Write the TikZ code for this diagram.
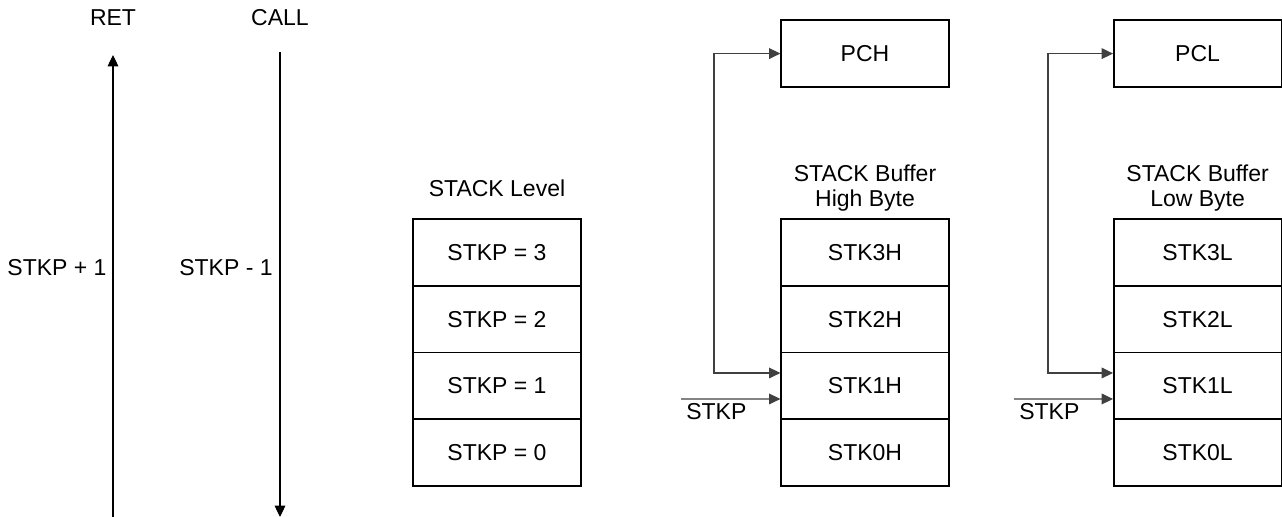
\documentclass[tikz,border=0pt]{standalone}
\usepackage{fontspec}
\setmainfont{Liberation Sans}
\usetikzlibrary{arrows.meta}
\begin{document}
\begin{tikzpicture}[x=0.75pt,y=-0.75pt,
  txt/.style={font=\fontsize{17.25pt}{18.75pt}\selectfont, inner sep=0pt, align=center},
  cell/.style={draw=black, line width=1.25pt, minimum width=125.6pt, minimum height=50.06pt,
    inner sep=0pt, font=\fontsize{17.25pt}{18.75pt}\selectfont},
  tip/.style={-{Triangle[length=8.5pt,width=8pt]}},
  flow/.style={line width=0.8pt, black!75},
  both/.style={{Triangle[length=8.5pt,width=8pt]}-{Triangle[length=8.5pt,width=8pt]}}
]
\useasboundingbox (0,0) rectangle (1282,517);

% direction arrows
\node[txt] (ret) at (113,18) {RET};
\node[txt] (call) at (280,18) {CALL};
\coordinate (retbot) at (113,520);
\coordinate (rettop) at (113,55);
\coordinate (calltop) at (280,52);
\coordinate (callbot) at (280,517);
\draw[line width=0.9pt, tip] (retbot) -- (rettop);
\draw[line width=0.9pt, tip] (calltop) -- (callbot);
\node[txt] (plus) at (57,268) {STKP + 1};
\node[txt] (minus) at (226,268) {STKP - 1};

% stack level column
\node[txt] (lvl) at (497,188) {STACK Level};
\node[cell] (L3) at (497,252.4) {STKP = 3};
\node[cell] (L2) at (497,319.1) {STKP = 2};
\node[cell] (L1) at (497,385.9) {STKP = 1};
\node[cell] (L0) at (497,452.6) {STKP = 0};

% high byte column
\node[cell] (PCH) at (865,53.6) {PCH};
\node[txt] (hdr) at (865,188) {STACK Buffer\\High Byte};
\node[cell] (H3) at (865,252.4) {STK3H};
\node[cell] (H2) at (865,319.1) {STK2H};
\node[cell] (H1) at (865,385.9) {STK1H};
\node[cell] (H0) at (865,452.6) {STK0H};
\coordinate (hbend) at (714,53.6);
\coordinate (hin) at (681,399);
\draw[flow, both] (PCH.west) -- (hbend) |- ([yshift=9.7pt]H1.west);
\draw[flow, tip] (hin) -- ([yshift=-9.8pt]H1.west);
\node[txt, anchor=west] (hstkp) at (686,412) {STKP};

% low byte column
\node[cell] (PCL) at (1197.6,53.6) {PCL};
\node[txt] (ldr) at (1197.6,188) {STACK Buffer\\Low Byte};
\node[cell] (S3) at (1197.6,252.4) {STK3L};
\node[cell] (S2) at (1197.6,319.1) {STK2L};
\node[cell] (S1) at (1197.6,385.9) {STK1L};
\node[cell] (S0) at (1197.6,452.6) {STK0L};
\coordinate (lbend) at (1048,53.6);
\coordinate (lin) at (1014,399);
\draw[flow, both] (PCL.west) -- (lbend) |- ([yshift=9.7pt]S1.west);
\draw[flow, tip] (lin) -- ([yshift=-9.8pt]S1.west);
\node[txt, anchor=west] (lstkp) at (1019,412) {STKP};
\end{tikzpicture}
\end{document}
